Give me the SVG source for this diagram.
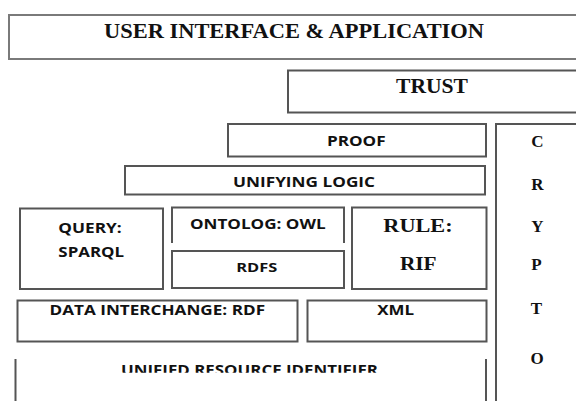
<svg xmlns="http://www.w3.org/2000/svg" width="576" height="401" viewBox="0 0 576 401">
  <style>
    .box { fill: #ffffff; stroke: #555555; stroke-width: 2; }
    .light { stroke: #7a7a7a; }
    .edge { fill: none; stroke: #555555; stroke-width: 2; }
    .serif { font-family: "Liberation Serif", "Times New Roman", serif; font-weight: bold; fill: #111111; text-anchor: middle; }
    .sans { font-family: "Open Sans", "Noto Sans", "Liberation Sans", sans-serif; font-weight: bold; fill: #111111; text-anchor: middle; }
  </style>
  <defs>
    <clipPath id="uri-clip">
      <rect x="0" y="350" width="576" height="22.8"/>
    </clipPath>
  </defs>
  <rect width="576" height="401" fill="#ffffff"/>

  <g id="user-interface">
    <rect class="box light" x="9" y="15" width="580" height="44"/>
    <text class="serif" x="294" y="37.5" font-size="20" textLength="380" lengthAdjust="spacingAndGlyphs">USER INTERFACE &amp; APPLICATION</text>
  </g>

  <g id="trust">
    <rect class="box" x="288" y="70.5" width="300" height="42"/>
    <text class="serif" x="432" y="92.7" font-size="20" textLength="72" lengthAdjust="spacingAndGlyphs">TRUST</text>
  </g>

  <g id="proof">
    <rect class="box" x="228" y="124" width="258" height="32.5"/>
    <text class="sans" x="356.3" y="145.7" font-size="15" textLength="58.7" lengthAdjust="spacingAndGlyphs">PROOF</text>
  </g>

  <g id="unifying-logic">
    <rect class="box" x="125" y="166" width="360" height="28.5"/>
    <text class="sans" x="304" y="186.7" font-size="14" textLength="142" lengthAdjust="spacingAndGlyphs">UNIFYING LOGIC</text>
  </g>

  <g id="crypto">
    <rect class="box" x="496" y="124" width="100" height="300"/>
    <text class="serif" x="537.5" y="147.3" font-size="17">C</text>
    <text class="serif" x="537.5" y="190" font-size="17">R</text>
    <text class="serif" x="537.3" y="231.7" font-size="17">Y</text>
    <text class="serif" x="536.5" y="270" font-size="17">P</text>
    <text class="serif" x="536.5" y="314" font-size="17">T</text>
    <text class="serif" x="537" y="364" font-size="17">O</text>
  </g>

  <g id="query">
    <rect class="box" x="20" y="208.5" width="143" height="80.5"/>
    <text class="sans" x="90" y="232.7" font-size="15" textLength="63.4" lengthAdjust="spacingAndGlyphs">QUERY:</text>
    <text class="sans" x="91.2" y="257.3" font-size="15" textLength="65.7" lengthAdjust="spacingAndGlyphs">SPARQL</text>
  </g>

  <g id="ontology">
    <path class="edge" d="M172,243 V207.5 H344 V243"/>
    <text class="sans" x="257.8" y="229.3" font-size="15" textLength="135.7" lengthAdjust="spacingAndGlyphs">ONTOLOG: OWL</text>
  </g>

  <g id="rdfs">
    <rect class="box" x="172" y="251" width="172" height="37"/>
    <text class="sans" x="256.7" y="272.3" font-size="13" textLength="41" lengthAdjust="spacingAndGlyphs">RDFS</text>
  </g>

  <g id="rule">
    <rect class="box" x="352" y="207.5" width="134.5" height="81.5"/>
    <text class="serif" x="418" y="231.7" font-size="19" textLength="69.3" lengthAdjust="spacingAndGlyphs">RULE:</text>
    <text class="serif" x="418.3" y="270" font-size="18" textLength="36.7" lengthAdjust="spacingAndGlyphs">RIF</text>
  </g>

  <g id="data-interchange">
    <rect class="box" x="17.5" y="300.5" width="280" height="41"/>
    <text class="sans" x="157.3" y="314.6" font-size="14.5" textLength="215.5" lengthAdjust="spacingAndGlyphs">DATA INTERCHANGE: RDF</text>
  </g>

  <g id="xml">
    <rect class="box" x="307.5" y="300.5" width="179" height="41"/>
    <text class="sans" x="395.6" y="314.6" font-size="14.5" textLength="36.8" lengthAdjust="spacingAndGlyphs">XML</text>
  </g>

  <g id="uri">
    <path class="edge" d="M15.5,359 V405 M486,359 V405"/>
    <text class="sans" x="249.5" y="374.5" font-size="14" textLength="257" lengthAdjust="spacingAndGlyphs" clip-path="url(#uri-clip)">UNIFIED RESOURCE IDENTIFIER</text>
  </g>

  <g id="connectors"/>
</svg>
